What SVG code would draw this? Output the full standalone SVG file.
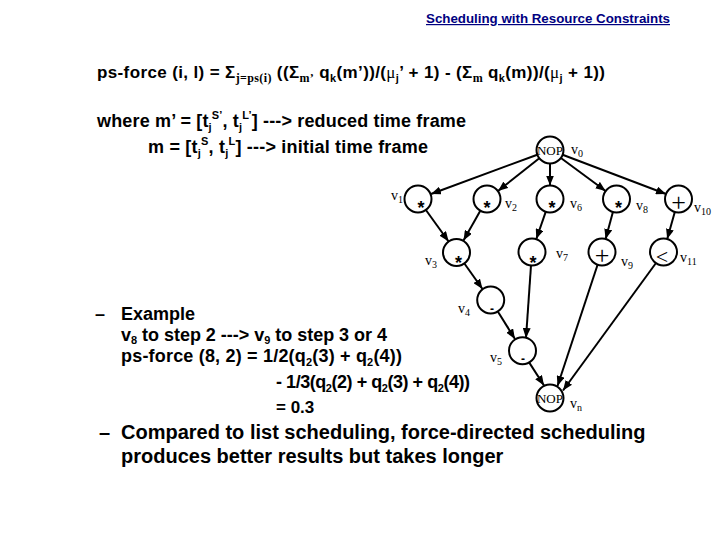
<svg xmlns="http://www.w3.org/2000/svg" width="720" height="540" viewBox="0 0 720 540">
<style>
.b{font-family:"Liberation Sans",Arial,sans-serif;font-weight:bold;fill:#000}
.f17{font-size:17px}
.f18{font-size:18px}
.f20{font-size:20px}
.sub{font-size:11px}
.sup{font-size:11px}
.mu{font-family:"Liberation Serif",serif;font-weight:normal}
.ssub{font-family:"Liberation Serif",serif;font-size:12px;font-weight:bold}
.title{font-family:"Liberation Sans",Arial,sans-serif;font-weight:bold;font-size:12px;fill:#000080;text-decoration:underline}
.node circle{fill:#fff;stroke:#000;stroke-width:2}
.lbl{font-family:"Liberation Serif","DejaVu Serif",serif;font-size:14px;fill:#000}
.lbl tspan{font-size:10px}
.nop{font-family:"Liberation Serif",serif;font-size:13px;fill:#000;text-anchor:middle}
.star{font-family:"Liberation Sans",Arial,sans-serif;font-weight:bold;font-size:18px;text-anchor:middle}
.plus{font-family:"Liberation Serif",serif;font-size:26px;text-anchor:middle}
.lt{font-family:"Liberation Serif",serif;font-size:22px;text-anchor:middle}
.dash{font-family:"Liberation Sans",Arial,sans-serif;font-weight:bold;font-size:12px;text-anchor:middle}
#edges line{stroke:#000;stroke-width:2;marker-end:url(#ah)}
</style>
<defs>
<marker id="ah" viewBox="0 0 10 8" refX="10" refY="4" markerWidth="10" markerHeight="8" markerUnits="userSpaceOnUse" orient="auto">
<path d="M0,0 L10,4 L0,8 z" fill="#000"/>
</marker>
</defs>
<rect width="720" height="540" fill="#fff"/>

<text class="title" x="426" y="23" textLength="244" lengthAdjust="spacingAndGlyphs">Scheduling with Resource Constraints</text>

<text class="b f17" x="97" y="78" textLength="508" lengthAdjust="spacing">ps-force (i, l) = Σ<tspan class="ssub" y="82">j=ps(i)</tspan><tspan y="78"> ((Σ</tspan><tspan class="ssub" y="82">m’</tspan><tspan y="78"> q</tspan><tspan class="sub" y="82">k</tspan><tspan y="78">(m’))/(</tspan><tspan class="mu">μ</tspan><tspan class="sub" y="82">j</tspan><tspan y="78">’ + 1) - (Σ</tspan><tspan class="ssub" y="82">m</tspan><tspan y="78"> q</tspan><tspan class="sub" y="82">k</tspan><tspan y="78">(m))/(</tspan><tspan class="mu">μ</tspan><tspan class="sub" y="82">j</tspan><tspan y="78"> + 1))</tspan></text>

<text class="b f18" x="97" y="127" textLength="369" lengthAdjust="spacing">where m’ = [t<tspan class="sub" y="131">j</tspan><tspan class="sup" y="119">S’</tspan><tspan y="127">, t</tspan><tspan class="sub" y="131">j</tspan><tspan class="sup" y="119">L’</tspan><tspan y="127">] ---&gt; reduced time frame</tspan></text>
<text class="b f18" x="148" y="153" textLength="280" lengthAdjust="spacing">m = [t<tspan class="sub" y="157">j</tspan><tspan class="sup" y="145">S</tspan><tspan y="153">, t</tspan><tspan class="sub" y="157">j</tspan><tspan class="sup" y="145">L</tspan><tspan y="153">] ---&gt; initial time frame</tspan></text>

<text class="b f18" y="320"><tspan x="95">–</tspan><tspan x="121">Example</tspan></text>
<text class="b f18" x="121" y="341" textLength="266" lengthAdjust="spacing">v<tspan class="sub" y="344">8</tspan><tspan y="341"> to step 2 ---&gt; v</tspan><tspan class="sub" y="344">9</tspan><tspan y="341"> to step 3 or 4</tspan></text>
<text class="b f18" x="121" y="362" textLength="281" lengthAdjust="spacing">ps-force (8, 2) = 1/2(q<tspan class="sub" y="366">2</tspan><tspan y="362">(3) + q</tspan><tspan class="sub" y="366">2</tspan><tspan y="362">(4))</tspan></text>
<text class="b f18" x="276" y="388" textLength="194" lengthAdjust="spacing">- 1/3(q<tspan class="sub" y="392">2</tspan><tspan y="388">(2) + q</tspan><tspan class="sub" y="392">2</tspan><tspan y="388">(3) + q</tspan><tspan class="sub" y="392">2</tspan><tspan y="388">(4))</tspan></text>
<text class="b f17" x="276" y="413">= 0.3</text>

<text class="b f20" y="439"><tspan x="99">–</tspan><tspan x="121">Compared to list scheduling, force-directed scheduling</tspan></text>
<text class="b f20" x="121" y="463">produces better results but takes longer</text>

<g id="edges">
<line x1="537.3" y1="154.7" x2="431" y2="194"/>
<line x1="539.3" y1="158.3" x2="498" y2="191"/>
<line x1="550" y1="163.5" x2="550" y2="185.5"/>
<line x1="560.9" y1="158" x2="605.6" y2="191"/>
<line x1="562.6" y1="154.8" x2="666" y2="194"/>
<line x1="425.9" y1="210" x2="448.6" y2="241.5"/>
<line x1="480.3" y1="210.7" x2="463.5" y2="240.5"/>
<line x1="464.4" y1="263.5" x2="482.5" y2="289"/>
<line x1="497.8" y1="311.5" x2="515" y2="339"/>
<line x1="545.7" y1="211.8" x2="536.3" y2="239"/>
<line x1="531" y1="265.5" x2="526" y2="338"/>
<line x1="612.9" y1="212" x2="605.6" y2="239"/>
<line x1="597.5" y1="265" x2="557.5" y2="386"/>
<line x1="674.8" y1="212" x2="667.2" y2="239"/>
<line x1="656" y1="263" x2="563" y2="390.5"/>
<line x1="529.1" y1="362.4" x2="544" y2="385.5"/>
</g>

<g id="v0" class="node"><circle cx="550" cy="150" r="13.5"/><text class="nop" x="550" y="155">NOP</text><text class="lbl" x="571" y="154">v<tspan dy="3">0</tspan></text></g>
<g id="v1" class="node"><circle cx="418" cy="199" r="13.5"/><text class="star" x="421" y="214">*</text><text class="lbl" x="391" y="200">v<tspan dy="3">1</tspan></text></g>
<g id="v2" class="node"><circle cx="487" cy="199" r="13.5"/><text class="star" x="487" y="214">*</text><text class="lbl" x="505" y="208">v<tspan dy="3">2</tspan></text></g>
<g id="v6" class="node"><circle cx="550" cy="199" r="13.5"/><text class="star" x="552" y="214">*</text><text class="lbl" x="570" y="208">v<tspan dy="3">6</tspan></text></g>
<g id="v8" class="node"><circle cx="616.5" cy="199" r="13.5"/><text class="star" x="618.5" y="214">*</text><text class="lbl" x="636" y="210">v<tspan dy="3">8</tspan></text></g>
<g id="v10" class="node"><circle cx="678.5" cy="199" r="13.5"/><text class="plus" x="678.5" y="211">+</text><text class="lbl" x="694" y="212">v<tspan dy="3">10</tspan></text></g>
<g id="v3" class="node"><circle cx="456.5" cy="252.5" r="13.5"/><text class="star" x="458.5" y="269">*</text><text class="lbl" x="425" y="265">v<tspan dy="3">3</tspan></text></g>
<g id="v7" class="node"><circle cx="532" cy="252" r="13.5"/><text class="star" x="533" y="268.5">*</text><text class="lbl" x="556" y="258">v<tspan dy="3">7</tspan></text></g>
<g id="v9" class="node"><circle cx="602" cy="252" r="13.5"/><text class="plus" x="602" y="264">+</text><text class="lbl" x="621" y="266">v<tspan dy="3">9</tspan></text></g>
<g id="v11" class="node"><circle cx="663.5" cy="252" r="13.5"/><text class="lt" x="662" y="264">&lt;</text><text class="lbl" x="680" y="262">v<tspan dy="3">11</tspan></text></g>
<g id="v4" class="node"><circle cx="490.7" cy="300" r="13.5"/><text class="dash" x="492" y="312.5">-</text><text class="lbl" x="458" y="313">v<tspan dy="3">4</tspan></text></g>
<g id="v5" class="node"><circle cx="522.5" cy="350.7" r="13.5"/><text class="dash" x="523" y="362.5">-</text><text class="lbl" x="490" y="362">v<tspan dy="3">5</tspan></text></g>
<g id="vn" class="node"><circle cx="550" cy="398" r="13.5"/><text class="nop" x="550" y="403">NOP</text><text class="lbl" x="570" y="408">v<tspan dy="3">n</tspan></text></g>
</svg>
